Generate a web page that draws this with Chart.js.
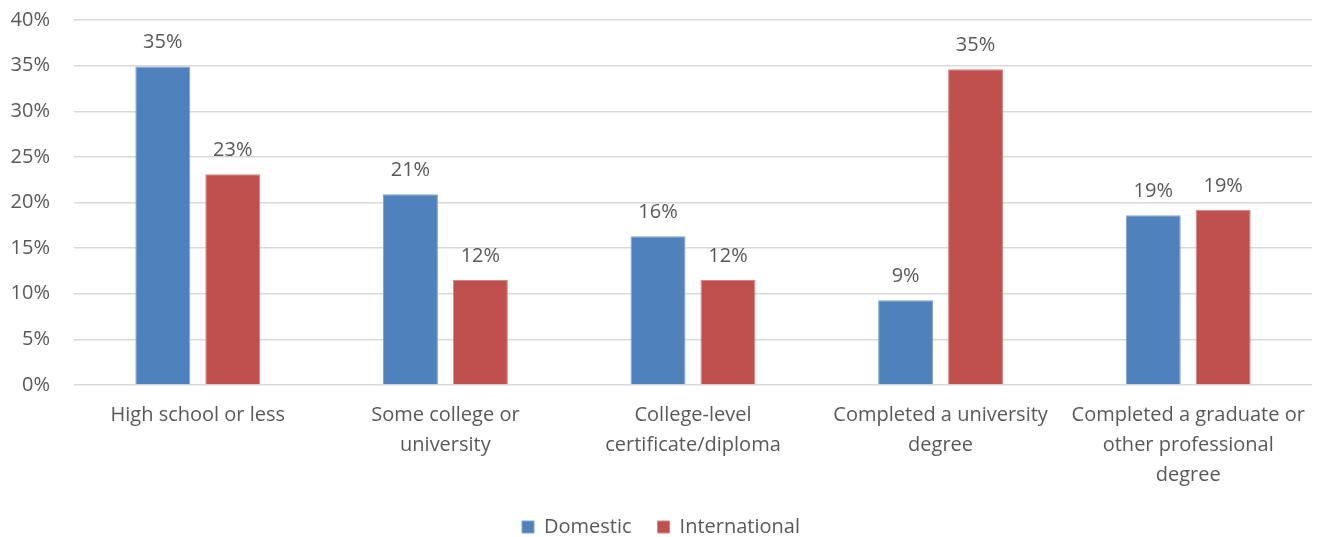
<!DOCTYPE html>
<html><head><meta charset="utf-8">
<script src="https://cdn.jsdelivr.net/npm/chart.js@4"></script>
<style>html,body{margin:0;padding:0;background:#fff;}#wrap{width:1321px;height:537px;}</style>
</head><body><div id="wrap"><canvas id="c" width="1321" height="537"></canvas></div>
<script>
const categories = [
  ["High school or less"],
  ["Some college or", "university"],
  ["College-level", "certificate/diploma"],
  ["Completed a university", "degree"],
  ["Completed a graduate or", "other professional", "degree"]
];
const domestic = [34.9, 20.9, 16.3, 9.3, 18.6];
const international = [23.1, 11.5, 11.5, 34.6, 19.2];
const yTicks = [0, 5, 10, 15, 20, 25, 30, 35, 40];

const FONT = "'Open Sans', 'Liberation Sans', sans-serif";
const TXT = '#595959';
const FS = 20;

const labelPlugin = {
  id: 'barLabels',
  afterDatasetsDraw(chart) {
    const ctx = chart.ctx;
    ctx.save();
    ctx.font = FS + "px " + FONT;
    ctx.fillStyle = TXT;
    ctx.textAlign = 'center';
    ctx.textBaseline = 'middle';
    chart.data.datasets.forEach((ds, i) => {
      const meta = chart.getDatasetMeta(i);
      meta.data.forEach((bar, j) => {
        ctx.fillText(Math.round(ds.data[j]) + '%', bar.x, bar.y - 24);
      });
    });
    ctx.restore();
  }
};

new Chart(document.getElementById('c'), {
  type: 'bar',
  data: {
    labels: categories,
    datasets: [
      { label: 'Domestic', data: domestic, backgroundColor: '#4F81BD', borderColor: '#7DA1CF', borderWidth: 1 },
      { label: 'International', data: international, backgroundColor: '#C0504D', borderColor: '#D48583', borderWidth: 1 }
    ]
  },
  options: {
    responsive: false,
    animation: false,
    devicePixelRatio: 1,
    categoryPercentage: 0.565,
    barPercentage: 0.786,
    layout: { padding: { left: 10, right: 9, top: 20, bottom: -10 } },
    plugins: {
      tooltip: { enabled: false },
      legend: {
        position: 'bottom',
        labels: {
          font: { family: FONT, size: FS },
          color: TXT,
          boxWidth: 12,
          boxHeight: 12,
          padding: 26,
          useBorderRadius: false
        }
      }
    },
    scales: {
      x: {
        grid: { display: false },
        border: { display: false },
        afterFit(axis) { axis.height = 106; axis.paddingTop = 0; axis.paddingBottom = 0; },
        ticks: { color: TXT, font: { family: FONT, size: FS, lineHeight: 1.5 }, maxRotation: 0, autoSkip: false, padding: 7 }
      },
      y: {
        min: 0, max: 40,
        afterBuildTicks(axis) { axis.ticks = yTicks.map(v => ({ value: v })); },
        afterFit(axis) { axis.width = 64; axis.paddingTop = 0; axis.paddingBottom = 0; },
        grid: { color: '#D9D9D9', lineWidth: 1.5, drawTicks: false },
        border: { display: false },
        ticks: { color: TXT, font: { family: FONT, size: FS }, padding: 24, callback: v => v + '%' }
      }
    }
  },
  plugins: [labelPlugin]
});
</script>
</body></html>
